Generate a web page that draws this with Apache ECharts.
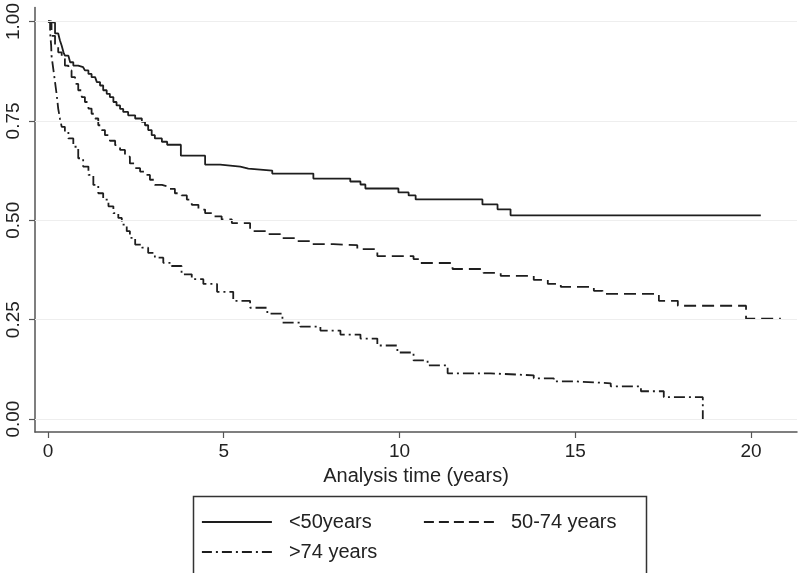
<!DOCTYPE html>
<html>
<head>
<meta charset="utf-8">
<script src="https://cdn.jsdelivr.net/npm/echarts@6/dist/echarts.min.js"></script>
<style>html,body{margin:0;padding:0;background:#fff;}#c{width:800px;height:573px;}</style>
</head>
<body>
<div id="c"></div>
<script>
// Kaplan-Meier estimates
const seriesNames = ['<50years', '50-74 years', '>74 years'];
const xTicks = [0, 5, 10, 15, 20];
const yTicks = [0, 0.25, 0.5, 0.75, 1];
const xTitle = 'Analysis time (years)';

const tYoung = [0,0.01,0.2,0.29,0.34,0.39,0.44,0.48,0.58,0.63,0.72,0.86,1.0,1.05,1.15,1.24,1.34,1.39,1.48,1.57,1.67,1.76,1.86,1.95,2.05,2.14,2.28,2.48,2.67,2.76,2.85,2.95,3.04,3.24,3.39,3.78,4.47,4.9,5.47,5.7,6.38,7.55,8.6,8.89,9.03,9.97,10.26,10.46,12.36,12.79,13.16,20.28];
const sYoung = [1,0.997,0.97,0.968,0.952,0.939,0.9225,0.914,0.91,0.8975,0.889,0.885,0.881,0.877,0.868,0.86,0.856,0.8475,0.839,0.827,0.818,0.81,0.7975,0.789,0.78,0.7725,0.764,0.756,0.7475,0.739,0.727,0.714,0.706,0.6975,0.69,0.6625,0.64,0.635,0.63,0.625,0.6175,0.605,0.5975,0.59,0.58,0.57,0.5625,0.5525,0.54,0.5275,0.5125,0.5125];

const tMid = [0,0.1,0.2,0.29,0.39,0.48,0.58,0.67,0.77,0.86,0.96,1.05,1.15,1.24,1.34,1.43,1.53,1.62,1.76,1.91,2.05,2.19,2.33,2.48,2.62,2.76,2.9,3.04,3.24,3.42,3.61,3.8,3.95,4.09,4.28,4.47,4.66,4.94,5.23,5.75,6.24,6.61,7.09,7.46,8.12,8.8,9.37,10.4,10.6,11.51,12.39,12.88,13.82,14.22,14.59,15.53,15.78,17.38,17.92,19.86,20.85];
const sMid = [1,0.964,0.939,0.9225,0.906,0.889,0.877,0.86,0.843,0.827,0.81,0.7975,0.781,0.768,0.756,0.739,0.727,0.714,0.70,0.689,0.677,0.66,0.643,0.631,0.6225,0.614,0.602,0.589,0.585,0.579,0.568,0.5625,0.552,0.539,0.527,0.518,0.51,0.502,0.493,0.4725,0.465,0.455,0.4475,0.44,0.4375,0.4275,0.41,0.4025,0.3925,0.3775,0.3675,0.36,0.35,0.34,0.3325,0.3225,0.315,0.2975,0.285,0.2525,0.2525];

const tOld = [0,0.06,0.09,0.1,0.15,0.2,0.25,0.29,0.34,0.39,0.48,0.58,0.72,0.86,1.0,1.15,1.29,1.43,1.57,1.72,1.86,2.0,2.1,2.24,2.33,2.48,2.67,2.85,3.04,3.28,3.52,3.8,4.09,4.42,4.81,5.27,5.75,6.24,6.67,7.18,7.75,8.32,8.89,9.37,9.94,10.4,10.8,11.37,12.59,13.82,14.39,14.96,16.01,16.87,17.52,18.63];
const sOld = [1,0.9725,0.939,0.914,0.881,0.8475,0.814,0.781,0.756,0.735,0.7225,0.706,0.685,0.656,0.635,0.614,0.589,0.568,0.552,0.535,0.518,0.506,0.489,0.4725,0.456,0.439,0.431,0.418,0.406,0.393,0.385,0.364,0.352,0.34,0.32,0.2975,0.28,0.265,0.2425,0.2325,0.2225,0.2125,0.2025,0.185,0.1675,0.1475,0.135,0.115,0.11,0.1025,0.095,0.09,0.0825,0.07,0.055,0];

const FONT = '"Liberation Sans", Arial, sans-serif';
const INK = '#1e1e1e';
const pair = (t, s) => t.map((v, i) => [v, s[i]]);

const chart = echarts.init(document.getElementById('c'), null, {renderer: 'canvas'});

const lineStyles = [
  {color: INK, width: 1.8, type: 'solid'},
  {color: INK, width: 1.8, type: [12, 6]},
  {color: INK, width: 1.8, type: [11, 4, 2, 4]}
];
const legendLine = [
  {color: INK, width: 1.8, type: 'solid'},
  {color: INK, width: 1.8, type: [10, 5]},
  {color: INK, width: 1.8, type: [10, 4, 2, 4]}
];
const datasets = [pair(tYoung, sYoung), pair(tMid, sMid), pair(tOld, sOld)];

const legendPos = [{left: 201, top: 512}, {left: 423, top: 512}, {left: 201, top: 542}];

const option = {
  backgroundColor: '#fff',
  animation: false,
  textStyle: {fontFamily: FONT},
  grid: {left: 35, right: 3, top: 5, bottom: 141, containLabel: false},
  xAxis: {
    type: 'value', min: -0.37, max: 21.31,
    name: xTitle, nameLocation: 'middle', nameGap: 34,
    nameTextStyle: {fontFamily: FONT, fontSize: 20, color: '#222'},
    axisLine: {show: true, onZero: false, lineStyle: {color: '#555', width: 1.5}},
    axisTick: {show: true, length: 6, lineStyle: {color: '#555', width: 1.2}, customValues: xTicks},
    axisLabel: {fontFamily: FONT, fontSize: 19, color: '#222', margin: 10, customValues: xTicks, formatter: v => String(v)},
    splitLine: {show: false}
  },
  yAxis: {
    type: 'value', min: -0.0325, max: 1.035,
    axisLine: {show: true, onZero: false, lineStyle: {color: '#555', width: 1.5}},
    axisTick: {show: true, length: 6, lineStyle: {color: '#555', width: 1.2}, customValues: yTicks},
    axisLabel: {fontFamily: FONT, fontSize: 19, color: '#222', margin: 12, rotate: 90, customValues: yTicks, formatter: v => v.toFixed(2)},
    splitLine: {show: false}
  },
  legend: seriesNames.map((n, i) => ({
    data: [{name: n, lineStyle: legendLine[i], itemStyle: {color: 'rgba(0,0,0,0)', borderWidth: 0, opacity: 0}}],
    left: legendPos[i].left, top: legendPos[i].top,
    itemWidth: 70, itemHeight: 14, itemGap: 0,
    textStyle: {fontFamily: FONT, fontSize: 20, color: '#222', padding: [0, 0, 0, 12]},
    selectedMode: false, padding: 0
  })),
  graphic: [{
    type: 'rect', left: 191, top: 494, z: 0,
    shape: {width: 453, height: 80},
    style: {fill: 'none', stroke: '#333', lineWidth: 1.5}
  }],
  series: [
    {
      type: 'line', name: '_grid', data: [], z: 1, silent: true,
      markLine: {
        silent: true, symbol: 'none', label: {show: false},
        lineStyle: {color: '#eeeeee', width: 1, type: 'solid'},
        data: yTicks.map(v => ({yAxis: v}))
      }
    }
  ].concat(seriesNames.map((n, i) => ({
    type: 'line', name: n, data: datasets[i], step: 'end',
    symbol: 'none', showSymbol: false, z: 3,
    itemStyle: {color: INK},
    lineStyle: lineStyles[i]
  })))
};
chart.setOption(option);
</script>
</body>
</html>
